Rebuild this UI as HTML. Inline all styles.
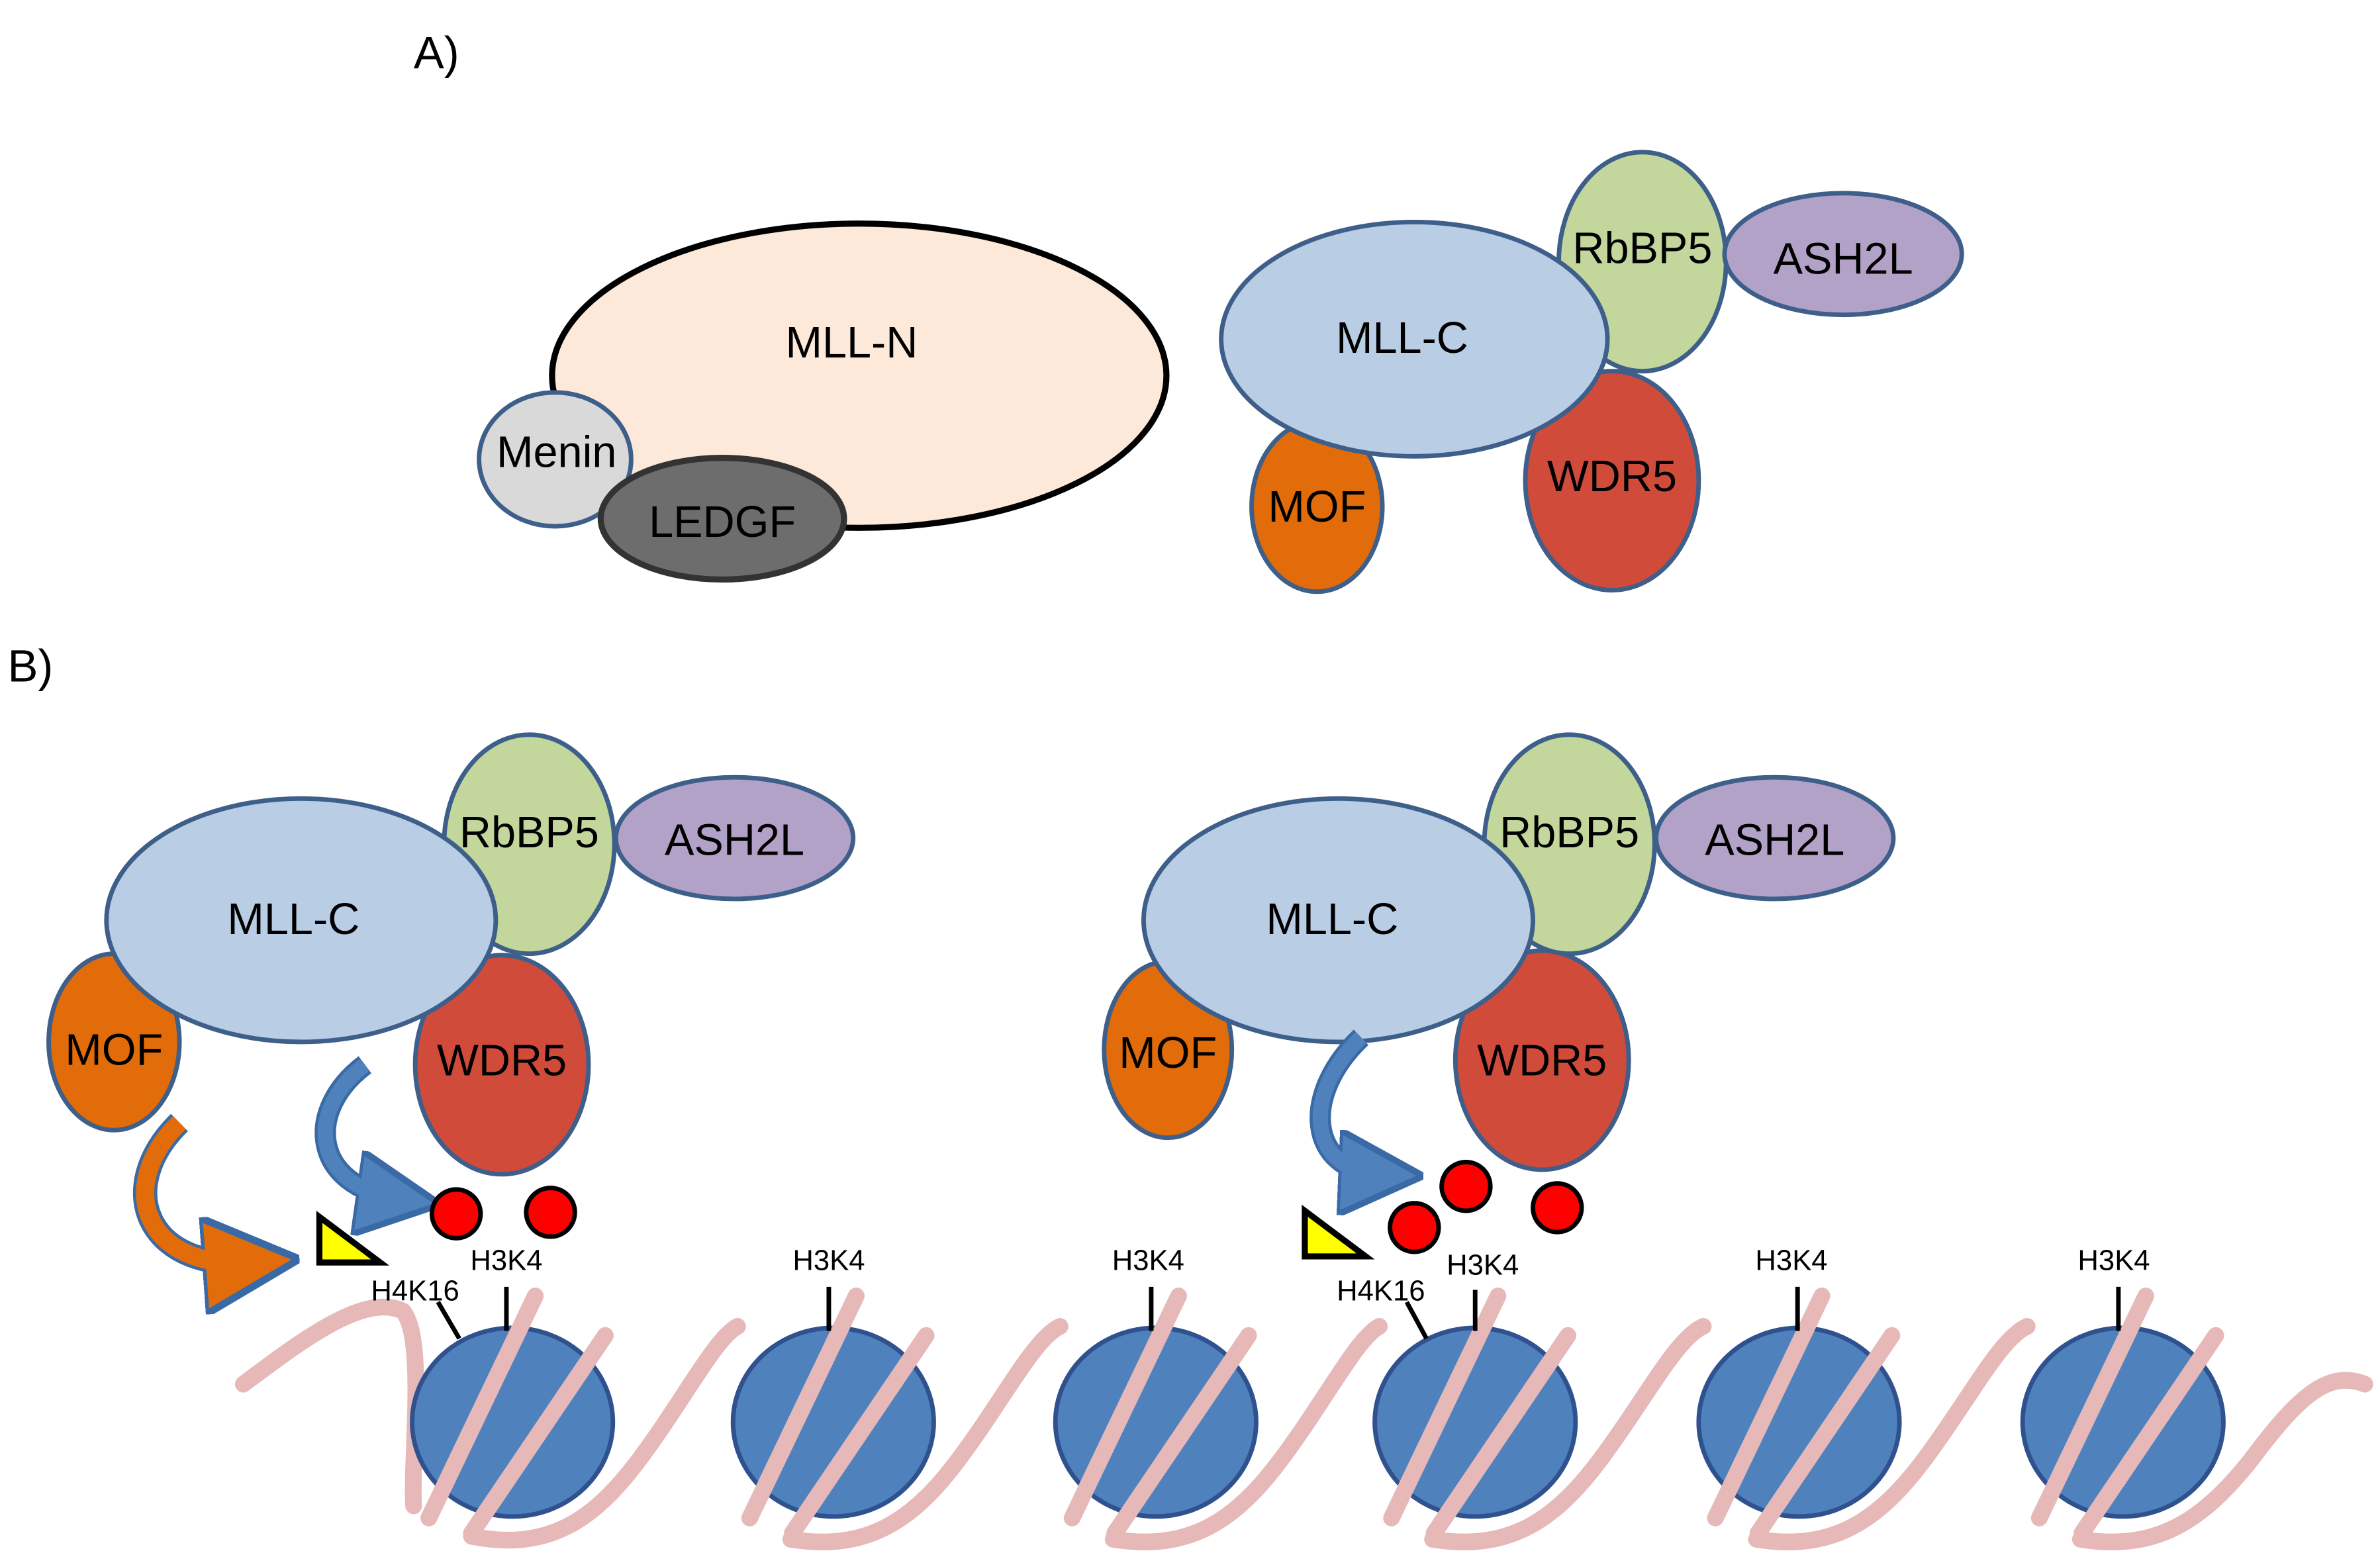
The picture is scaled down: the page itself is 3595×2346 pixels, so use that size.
<!DOCTYPE html>
<html><head><style>html,body{margin:0;padding:0;background:#fff}svg{display:block}</style></head>
<body>
<svg width="3595" height="2346" viewBox="0 0 1565 1021" preserveAspectRatio="none" xmlns="http://www.w3.org/2000/svg" font-family="Liberation Sans, sans-serif">
<defs>
<marker id="ab" markerWidth="4" markerHeight="4" refX="2" refY="2" orient="auto" markerUnits="strokeWidth"><path d="M0,0 L4,2 L0,4 z" fill="#4f81bd" stroke="#3a6aa5" stroke-width="0.3"/></marker>
<marker id="ao" markerWidth="4" markerHeight="4" refX="2" refY="2" orient="auto" markerUnits="strokeWidth"><path d="M0,0 L4,2 L0,4 z" fill="#e36c0a" stroke="#3a6aa5" stroke-width="0.3"/></marker>
</defs>
<g font-size="30">
<text x="272" y="45">A)</text>
<text x="5" y="448">B)</text>
</g>
<!-- Panel A -->
<ellipse cx="565" cy="247" rx="202" ry="100" fill="#fde9d9" stroke="#000" stroke-width="4"/>
<ellipse cx="365" cy="302" rx="50" ry="44" fill="#d9d9d9" stroke="#3e5f8a" stroke-width="3"/>
<ellipse cx="475" cy="341" rx="80" ry="40" fill="#6d6d6d" stroke="#333" stroke-width="4"/>
<ellipse cx="866" cy="333" rx="43" ry="56" fill="#e36c0a" stroke="#3e5f8a" stroke-width="3"/>
<ellipse cx="1060" cy="316" rx="57" ry="72" fill="#d14b3b" stroke="#3e5f8a" stroke-width="3"/>
<ellipse cx="1080" cy="172" rx="55" ry="72" fill="#c3d69b" stroke="#3e5f8a" stroke-width="3"/>
<ellipse cx="1212" cy="167" rx="78" ry="40" fill="#b3a2c7" stroke="#3e5f8a" stroke-width="3"/>
<ellipse cx="930" cy="223" rx="127" ry="77" fill="#b9cde5" stroke="#3e5f8a" stroke-width="3"/>
<g font-size="29" text-anchor="middle">
<text x="560" y="235">MLL-N</text>
<text x="366" y="307">Menin</text>
<text x="475" y="353">LEDGF</text>
<text x="866" y="343">MOF</text>
<text x="1060" y="323">WDR5</text>
<text x="1080" y="173">RbBP5</text>
<text x="1212" y="180">ASH2L</text>
<text x="922" y="232">MLL-C</text>
</g>
<!-- Panel B complexes -->
<g id="cx1">
<ellipse cx="75" cy="685" rx="43" ry="58" fill="#e36c0a" stroke="#3e5f8a" stroke-width="3"/>
<ellipse cx="330" cy="700" rx="57" ry="72" fill="#d14b3b" stroke="#3e5f8a" stroke-width="3"/>
<ellipse cx="348" cy="555" rx="56" ry="72" fill="#c3d69b" stroke="#3e5f8a" stroke-width="3"/>
<ellipse cx="483" cy="551" rx="78" ry="40" fill="#b3a2c7" stroke="#3e5f8a" stroke-width="3"/>
<ellipse cx="198" cy="605" rx="128" ry="80" fill="#b9cde5" stroke="#3e5f8a" stroke-width="3"/>
<g font-size="29" text-anchor="middle">
<text x="75" y="700">MOF</text>
<text x="330" y="707">WDR5</text>
<text x="348" y="557">RbBP5</text>
<text x="483" y="562">ASH2L</text>
<text x="193" y="614">MLL-C</text>
</g>
</g>
<g transform="translate(683,0)">
<ellipse cx="85" cy="690" rx="42" ry="58" fill="#e36c0a" stroke="#3e5f8a" stroke-width="3"/>
<ellipse cx="331" cy="697" rx="57" ry="72" fill="#d14b3b" stroke="#3e5f8a" stroke-width="3"/>
<ellipse cx="349" cy="555" rx="56" ry="72" fill="#c3d69b" stroke="#3e5f8a" stroke-width="3"/>
<ellipse cx="484" cy="551" rx="78" ry="40" fill="#b3a2c7" stroke="#3e5f8a" stroke-width="3"/>
<ellipse cx="197" cy="605" rx="128" ry="80" fill="#b9cde5" stroke="#3e5f8a" stroke-width="3"/>
<g font-size="29" text-anchor="middle">
<text x="85" y="702">MOF</text>
<text x="331" y="707">WDR5</text>
<text x="349" y="557">RbBP5</text>
<text x="484" y="562">ASH2L</text>
<text x="193" y="614">MLL-C</text>
</g>
</g>
<!-- arrows -->
<path d="M240,700 C200,730 205,780 262,788" fill="none" stroke="#3a6aa5" stroke-width="14" marker-end="url(#ab)"/>
<path d="M240,700 C200,730 205,780 262,788" fill="none" stroke="#4f81bd" stroke-width="10"/>
<path d="M895,682 C855,720 860,770 908,772" fill="none" stroke="#3a6aa5" stroke-width="14" marker-end="url(#ab)"/>
<path d="M895,682 C855,720 860,770 908,772" fill="none" stroke="#4f81bd" stroke-width="10"/>
<path d="M118,738 C75,780 95,835 165,830" fill="none" stroke="#3a6aa5" stroke-width="16" marker-end="url(#ao)"/>
<path d="M118,738 C75,780 95,835 165,830" fill="none" stroke="#e36c0a" stroke-width="12"/>
<!-- triangles and dots -->
<path d="M210,800 L210,830 L250,830 Z" fill="#ffff00" stroke="#000" stroke-width="4"/>
<path d="M858,796 L858,826 L898,826 Z" fill="#ffff00" stroke="#000" stroke-width="4"/>
<g fill="#ff0000" stroke="#000" stroke-width="3">
<circle cx="300" cy="798" r="16"/><circle cx="362" cy="797" r="16"/>
<circle cx="930" cy="807" r="16"/><circle cx="964" cy="780" r="16"/><circle cx="1024" cy="794" r="16"/>
</g>
<!-- DNA back -->
<g fill="none" stroke="#e6b9b8" stroke-width="11" stroke-linecap="round">
<path d="M160,910 C200,880 240,850 265,862 C280,880 270,960 272,990"/>
<path d="M310,1010 C360,1020 390,1000 420,960 C450,920 470,880 485,872"/>
<path d="M520,1012 C570,1020 600,1000 630,960 C660,920 680,880 697,872"/>
<path d="M732,1012 C782,1020 812,1000 842,960 C872,920 892,880 907,872"/>
<path d="M942,1012 C992,1020 1022,1000 1052,960 C1082,920 1102,880 1120,872"/>
<path d="M1155,1012 C1205,1020 1235,1000 1265,960 C1295,920 1315,880 1333,872"/>
<path d="M1368,1012 C1418,1020 1448,1000 1480,960 C1510,920 1530,900 1555,910"/>
</g>
<!-- nucleosomes -->
<g fill="#4f81bd" stroke="#2f528f" stroke-width="3">
<ellipse cx="337" cy="935" rx="66" ry="62"/>
<ellipse cx="548" cy="935" rx="66" ry="62"/>
<ellipse cx="760" cy="935" rx="66" ry="62"/>
<ellipse cx="970" cy="935" rx="66" ry="62"/>
<ellipse cx="1183" cy="935" rx="66" ry="62"/>
<ellipse cx="1396" cy="935" rx="66" ry="62"/>
</g>
<g fill="none" stroke="#e6b9b8" stroke-width="11" stroke-linecap="round">
<path d="M282,998 L352,852"/><path d="M310,1008 L398,878"/>
<path d="M493,998 L563,852"/><path d="M521,1008 L609,878"/>
<path d="M705,998 L775,852"/><path d="M733,1008 L821,878"/>
<path d="M915,998 L985,852"/><path d="M943,1008 L1031,878"/>
<path d="M1128,998 L1198,852"/><path d="M1156,1008 L1244,878"/>
<path d="M1341,998 L1411,852"/><path d="M1369,1008 L1457,878"/>
</g>
<!-- ticks -->
<g stroke="#000" stroke-width="3">
<line x1="333" y1="846" x2="333" y2="875"/>
<line x1="545" y1="846" x2="545" y2="875"/>
<line x1="757" y1="846" x2="757" y2="875"/>
<line x1="970" y1="848" x2="970" y2="875"/>
<line x1="1182" y1="846" x2="1182" y2="875"/>
<line x1="1393" y1="846" x2="1393" y2="875"/>
<line x1="288" y1="856" x2="302" y2="880"/>
<line x1="925" y1="856" x2="938" y2="880"/>
</g>
<g font-size="19" text-anchor="middle">
<text x="333" y="835">H3K4</text>
<text x="545" y="835">H3K4</text>
<text x="755" y="835">H3K4</text>
<text x="975" y="838">H3K4</text>
<text x="1178" y="835">H3K4</text>
<text x="1390" y="835">H3K4</text>
<text x="273" y="855">H4K16</text>
<text x="908" y="855">H4K16</text>
</g>
</svg>
</body></html>
